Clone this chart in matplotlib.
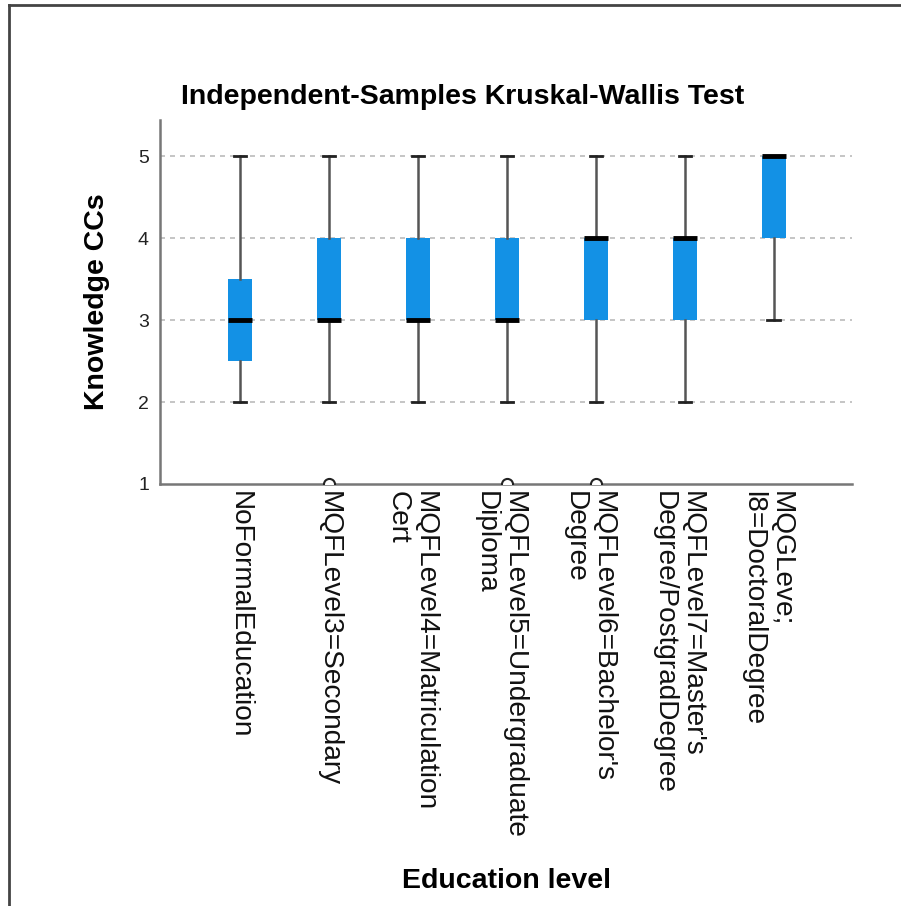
import matplotlib.pyplot as plt
import matplotlib.transforms as mtrans
from matplotlib.lines import Line2D

plt.rcParams['font.family'] = ['Liberation Sans', 'DejaVu Sans']

# box statistics
groups = ["NoFormalEducation",
          "MQFLevel3=Secondary",
          "MQFLevel4=Matriculation\nCert",
          "MQFLevel5=Undergraduate\nDiploma",
          "MQFLevel6=Bachelor's\nDegree",
          "MQFLevel7=Master's\nDegree/PostgradDegree",
          "MQGLeve;\nl8=DoctoralDegree"]
whis_low = [2, 2, 2, 2, 2, 2, 3]
q1 = [2.5, 3, 3, 3, 3, 3, 4]
medians = [3, 3, 3, 3, 4, 4, 5]
q3 = [3.5, 4, 4, 4, 4, 4, 5]
whis_high = [5, 5, 5, 5, 5, 5, 5]
outliers = [[], [1], [], [1], [1], [], []]
yticks = [1, 2, 3, 4, 5]

stats = []
for i, g in enumerate(groups):
    stats.append(dict(label=g, whislo=whis_low[i], q1=q1[i], med=medians[i],
                      q3=q3[i], whishi=whis_high[i], fliers=outliers[i]))

fig = plt.figure(figsize=(9.01, 9.06), dpi=100)
ax = fig.add_axes([0.1776, 0.4658, 0.768, 0.4017])

box_col = '#1391E5'
ax.bxp(stats, positions=range(1, len(groups) + 1), widths=0.27, capwidths=0.14,
       patch_artist=True,
       boxprops=dict(facecolor=box_col, edgecolor=box_col, linewidth=0),
       medianprops=dict(color='black', linewidth=3.5, solid_capstyle='butt'),
       whiskerprops=dict(color='#555555', linewidth=1.8),
       capprops=dict(color='#222222', linewidth=2),
       flierprops=dict(marker='o', markersize=8, markerfacecolor='white',
                       markeredgecolor='#222222', markeredgewidth=1.5),
       zorder=3)

ax.set_xlim(0.1, 7.88)
ax.set_ylim(1, 5.44)
ax.set_yticks(yticks)
ax.set_yticklabels([str(v) for v in yticks], fontsize=14, color='#222222')
ax.set_xticklabels(groups, rotation=-90, ha='center', va='top',
                   fontsize=20.2, linespacing=1.08, multialignment='left',
                   color='#111111')
ax.tick_params(axis='both', length=0)
ax.tick_params(axis='x', pad=5)
ax.tick_params(axis='y', pad=8)

# two-line labels sit a little left of their tick in the original
shift = mtrans.ScaledTranslation(-7 / 100, 0, fig.dpi_scale_trans)
for lab in ax.get_xticklabels():
    if '\n' in lab.get_text():
        lab.set_transform(lab.get_transform() + shift)

for y in yticks[1:]:
    ax.axhline(y, color='#BBBBBB', linestyle=(0, (3, 3)), linewidth=1.2, zorder=1)

for s in ['top', 'right']:
    ax.spines[s].set_visible(False)
for s in ['left', 'bottom']:
    ax.spines[s].set_color('#777777')
    ax.spines[s].set_linewidth(1.8)

fig.text(0.514, 0.893, 'Independent-Samples Kruskal-Wallis Test', fontsize=20.5,
         fontweight='bold', ha='center', va='center')
fig.text(0.5616, 0.0276, 'Education level', fontsize=20.5,
         fontweight='bold', ha='center', va='center')
fig.text(0.1077, 0.6667, 'Knowledge CCs', fontsize=20.5, rotation=90,
         fontweight='bold', ha='center', va='center')

# outer frame (left and top edges only)
fig.add_artist(Line2D([0.0105, 0.0105], [0, 0.9945], color='#444444', linewidth=2,
                      transform=fig.transFigure))
fig.add_artist(Line2D([0.0105, 1], [0.9945, 0.9945], color='#444444', linewidth=2,
                      transform=fig.transFigure))

fig.savefig('out.png', dpi=100, facecolor='white')
